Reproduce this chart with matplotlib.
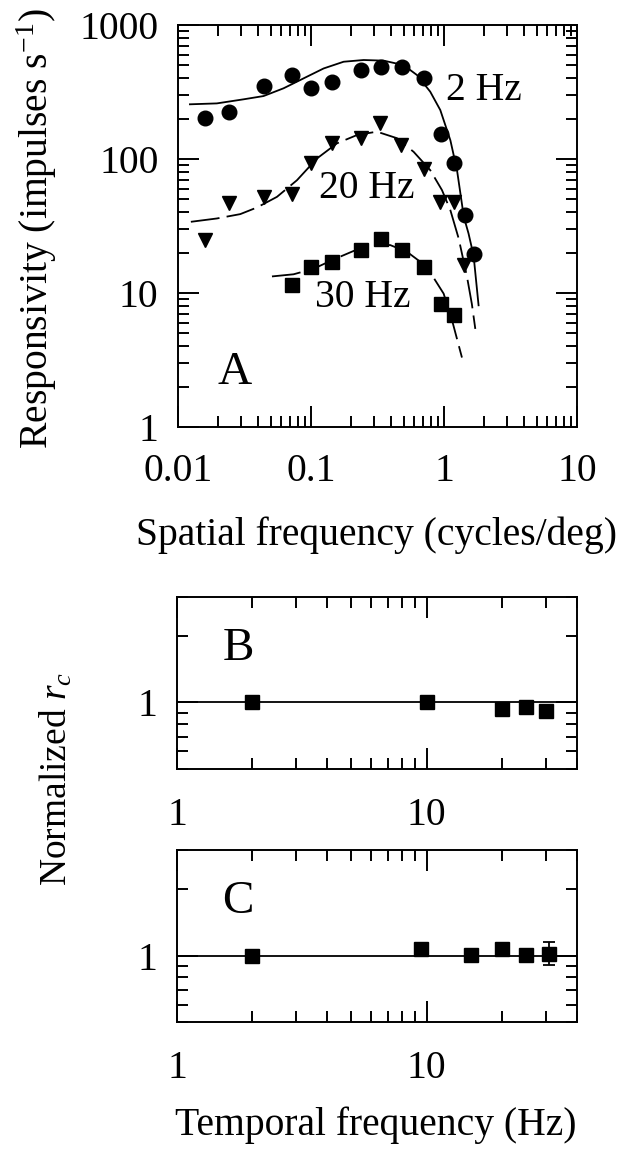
import matplotlib
matplotlib.use("Agg")
import matplotlib.pyplot as plt
from matplotlib.ticker import LogLocator, NullFormatter

plt.rcParams['font.family'] = ['Liberation Serif', 'DejaVu Serif']
plt.rcParams['mathtext.fontset'] = 'custom'
plt.rcParams['mathtext.rm'] = 'Liberation Serif'
plt.rcParams['mathtext.it'] = 'Liberation Serif:italic'

# Panel A: responsivity vs spatial frequency (data points)
sf_2hz = [0.0161, 0.024, 0.044, 0.072, 0.1, 0.144, 0.239, 0.338, 0.483, 0.703, 0.948, 1.18, 1.43, 1.67]
resp_2hz = [201, 225, 350, 424, 337, 378, 461, 489, 489, 400, 155, 94, 38, 19.7]
sf_20hz = [0.0161, 0.024, 0.044, 0.072, 0.1, 0.144, 0.239, 0.328, 0.475, 0.703, 0.938, 1.18, 1.41]
resp_20hz = [24.8, 46.6, 52, 55, 92.7, 131, 143, 185, 127, 83.6, 48, 48, 16.1]
sf_30hz = [0.072, 0.1, 0.144, 0.239, 0.338, 0.483, 0.703, 0.948, 1.18]
resp_30hz = [11.4, 15.7, 17.1, 20.9, 25.5, 20.9, 15.7, 8.3, 6.8]

# Panel A: model fits
fit_sf_2hz = [0.0123, 0.0196, 0.0312, 0.044, 0.0622, 0.0881, 0.1245, 0.176, 0.249, 0.352,
              0.497, 0.627, 0.788, 0.938, 1.117, 1.253, 1.41, 1.53, 1.67, 1.82]
fit_resp_2hz = [256, 260, 279, 295, 337, 400, 474, 532, 548, 542,
                502, 423, 318, 232, 138, 82.6, 37, 27.8, 19, 8.1]
fit_sf_20hz = [0.0125, 0.0196, 0.0294, 0.0393, 0.0555, 0.0785, 0.111, 0.157, 0.222, 0.313,
               0.443, 0.592, 0.788, 0.966, 1.117, 1.29, 1.49, 1.62, 1.72]
fit_resp_20hz = [34, 36, 38.8, 43.5, 52.2, 69.5, 101, 131, 151, 160,
                 143, 113, 82.6, 58.6, 41.5, 25.5, 13.2, 8.3, 5.4]
fit_sf_30hz = [0.0509, 0.074, 0.105, 0.148, 0.209, 0.296, 0.394, 0.527, 0.664, 0.812,
               0.994, 1.148, 1.365]
fit_resp_30hz = [13.3, 13.8, 15.2, 17.8, 20.6, 22.8, 22.8, 20.3, 17.1, 13.6,
                 9.9, 6.3, 3.3]

# Panels B and C: normalized r_c vs temporal frequency
tf_b = [2, 10, 20, 25, 30]
rc_b = [1.0, 1.0, 0.93, 0.95, 0.91]
tf_c = [2, 9.5, 15, 20, 25, 31]
rc_c = [1.0, 1.065, 1.01, 1.065, 1.01, 1.02]
rc_c_err_lo = [0, 0, 0, 0, 0, 0.11]
rc_c_err_hi = [0, 0, 0, 0, 0, 0.13]

FS = 28.5
FS_PANEL = 34


def style_axis(ax):
    for sp in ax.spines.values():
        sp.set_linewidth(1.4)
    ax.tick_params(which='both', direction='in', top=True, right=True, width=1.4,
                   labelsize=FS)
    ax.tick_params(which='major', length=15)
    ax.tick_params(which='minor', length=8)


fig = plt.figure(figsize=(6.26, 11.52), dpi=100)

# ---- Panel A ----
axA = fig.add_axes([0.2843, 0.6293, 0.6374, 0.349])
axA.set_xscale('log')
axA.set_yscale('log')
axA.plot(fit_sf_2hz, fit_resp_2hz, color='black', lw=1.3, ls='-')
axA.plot(fit_sf_20hz, fit_resp_20hz, color='black', lw=1.3, dashes=(16, 4))
axA.plot(fit_sf_30hz, fit_resp_30hz, color='black', lw=1.3, dashes=(16, 4))
axA.plot(sf_2hz, resp_2hz, 'o', color='black', ms=10.5)
axA.plot(sf_20hz, resp_20hz, 'v', color='black', ms=10.5)
axA.plot(sf_30hz, resp_30hz, 's', color='black', ms=9.5)
axA.set_xlim(0.01, 10)
axA.set_ylim(1, 1000)
axA.set_xticks([0.01, 0.1, 1, 10])
axA.set_xticklabels(['0.01', '0.1', '1', '10'])
axA.set_yticks([1, 10, 100, 1000])
axA.set_yticklabels(['1', '10', '100', '1000'])
axA.xaxis.set_minor_locator(LogLocator(base=10, subs=range(2, 10), numticks=20))
axA.yaxis.set_minor_locator(LogLocator(base=10, subs=range(2, 10), numticks=20))
axA.xaxis.set_minor_formatter(NullFormatter())
axA.yaxis.set_minor_formatter(NullFormatter())
style_axis(axA)
axA.tick_params(axis='x', pad=19)
axA.tick_params(axis='y', pad=14)
axA.text(2.0, 327, '2 Hz', fontsize=FS, ha='center', va='center')
axA.text(0.264, 60, '20 Hz', fontsize=FS, ha='center', va='center')
axA.text(0.245, 9.2, '30 Hz', fontsize=FS, ha='center', va='center')
axA.text(0.0268, 2.53, 'A', fontsize=FS_PANEL, ha='center', va='center')

fig.text(376 / 626, 1 - 535 / 1152, 'Spatial frequency (cycles/deg)', fontsize=FS,
         ha='center', va='center')
fig.text(37 / 626, 1 - 229 / 1152, r'Responsivity (impulses s$^{-1}$)', fontsize=FS,
         ha='center', va='center', rotation=90)


def panel_rc(ax, tf, rc, letter, err=None):
    ax.set_xscale('log')
    ax.set_yscale('log')
    ax.axhline(1.0, color='black', lw=1.3)
    if err is None:
        ax.plot(tf, rc, 's', color='black', ms=9.5)
    else:
        ax.errorbar(tf, rc, yerr=err, fmt='s', color='black', ms=9.5,
                    elinewidth=1.3, capsize=4, capthick=1.3)
    ax.set_xlim(1, 40)
    ax.set_ylim(0.5, 3)
    ax.set_xticks([1, 10])
    ax.set_xticklabels(['1', '10'])
    ax.set_yticks([1])
    ax.set_yticklabels(['1'])
    ax.xaxis.set_minor_locator(LogLocator(base=10, subs=range(2, 10), numticks=20))
    ax.yaxis.set_minor_locator(LogLocator(base=10, subs=range(2, 10), numticks=20))
    ax.xaxis.set_minor_formatter(NullFormatter())
    ax.yaxis.set_minor_formatter(NullFormatter())
    style_axis(ax)
    ax.tick_params(axis='x', pad=20)
    ax.tick_params(axis='y', pad=14)
    ax.text(0.153, 0.70, letter, transform=ax.transAxes, fontsize=FS_PANEL,
            ha='center', va='center')


axB = fig.add_axes([0.2827, 0.3325, 0.639, 0.1493])
panel_rc(axB, tf_b, rc_b, 'B')

axC = fig.add_axes([0.2827, 0.1128, 0.639, 0.1493])
panel_rc(axC, tf_c, rc_c, 'C', err=[rc_c_err_lo, rc_c_err_hi])

fig.text(56 / 626, 1 - 779 / 1152, r'Normalized $r_c$', fontsize=27,
         ha='center', va='center', rotation=90)
fig.text(376 / 626, 1 - 1125 / 1152, 'Temporal frequency (Hz)', fontsize=FS,
         ha='center', va='center')

fig.savefig('out.png', dpi=100, facecolor='white')
